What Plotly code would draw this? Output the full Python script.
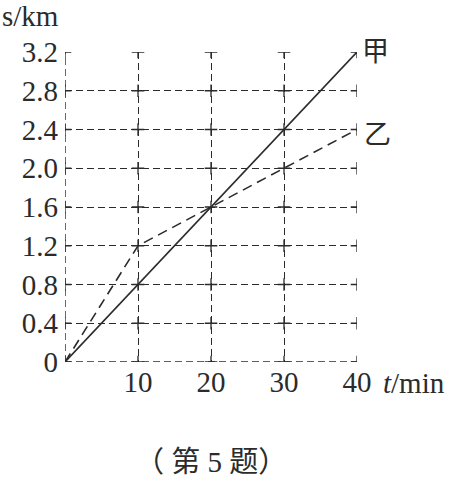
import plotly.graph_objects as go

# Data
t_jia = [0, 40]
s_jia = [0, 3.2]
t_yi = [0, 10, 40]
s_yi = [0, 1.2, 2.4]
x_ticks = [10, 20, 30, 40]
x_labels = ["10", "20", "30", "40"]
y_ticks = [0, 0.4, 0.8, 1.2, 1.6, 2.0, 2.4, 2.8, 3.2]
y_labels = ["0", "0.4", "0.8", "1.2", "1.6", "2.0", "2.4", "2.8", "3.2"]
grid_x = [0, 10, 20, 30, 40]

INK = "#2b2b2b"
SERIF = "Liberation Serif"
CJK = "Noto Sans CJK SC"
GRID_DASH = "7px,4px"

fig = go.Figure()

# crosses at grid intersections (clipped at the frame, giving ⊢ ┬ shapes)
cx, cy = [], []
for gx in grid_x:
    for gy in y_ticks:
        cx.append(gx)
        cy.append(gy)
fig.add_trace(go.Scatter(x=cx, y=cy, mode="markers",
                         marker=dict(symbol="cross-thin", size=9,
                                     line=dict(color=INK, width=1.3)),
                         hoverinfo="skip", showlegend=False, cliponaxis=True))

fig.add_trace(go.Scatter(x=t_jia, y=s_jia, mode="lines",
                         line=dict(color=INK, width=1.6),
                         showlegend=False, cliponaxis=False))
fig.add_trace(go.Scatter(x=t_yi, y=s_yi, mode="lines",
                         line=dict(color=INK, width=1.6, dash="10px,6px"),
                         showlegend=False, cliponaxis=False))

fig.update_xaxes(range=[0, 40], tickvals=x_ticks, ticktext=x_labels,
                 showgrid=True, gridcolor=INK, gridwidth=1.4, griddash=GRID_DASH,
                 zeroline=False, showline=False, automargin=False,
                 ticks="", tickfont=dict(family=SERIF, size=29, color=INK),
                 ticklabelstandoff=0)
fig.update_yaxes(range=[0, 3.2], tickvals=y_ticks, ticktext=y_labels,
                 showgrid=True, gridcolor=INK, gridwidth=1.4, griddash=GRID_DASH,
                 zeroline=False, showline=False, automargin=False,
                 ticks="", tickfont=dict(family=SERIF, size=29, color=INK),
                 ticklabelstandoff=6)

# left and bottom dashed borders (gridlines at 0)
fig.add_shape(type="line", xref="x", yref="y", x0=0, x1=0, y0=0, y1=3.2,
              line=dict(color=INK, width=1.4, dash=GRID_DASH))
fig.add_shape(type="line", xref="x", yref="y", x0=0, x1=40, y0=0, y1=0,
              line=dict(color=INK, width=1.4, dash=GRID_DASH))

fig.add_annotation(x=40, y=3.2, xref="x", yref="y", text="甲", showarrow=False,
                   xanchor="left", yanchor="middle", xshift=3, yshift=3,
                   font=dict(family=CJK, size=27, color=INK))
fig.add_annotation(x=40, y=2.4, xref="x", yref="y", text="乙", showarrow=False,
                   xanchor="left", yanchor="middle", xshift=5, yshift=-3,
                   font=dict(family=CJK, size=27, color=INK))

fig.add_annotation(x=0, y=1, xref="paper", yref="paper", text="s/km",
                   showarrow=False, xanchor="left", yanchor="middle",
                   xshift=-65, yshift=36,
                   font=dict(family=SERIF, size=29, color=INK))
fig.add_annotation(x=1, y=0, xref="paper", yref="paper", text="<i>t</i>/min",
                   showarrow=False, xanchor="left", yanchor="middle",
                   xshift=24, yshift=-21,
                   font=dict(family=SERIF, size=29, color=INK))
fig.add_annotation(x=0.5, y=0, xref="paper", yref="paper", text="（ 第 5 题）",
                   showarrow=False, xanchor="center", yanchor="middle",
                   xshift=0, yshift=-100,
                   font=dict(family=SERIF + ", " + CJK, size=29, color=INK))

fig.update_layout(width=453, height=482,
                  margin=dict(l=65, r=96, t=52, b=120),
                  plot_bgcolor="white", paper_bgcolor="white",
                  showlegend=False)

fig.write_html("out.html", config={"displayModeBar": False},
               post_script="document.body.style.margin='0';document.body.style.padding='0';")
